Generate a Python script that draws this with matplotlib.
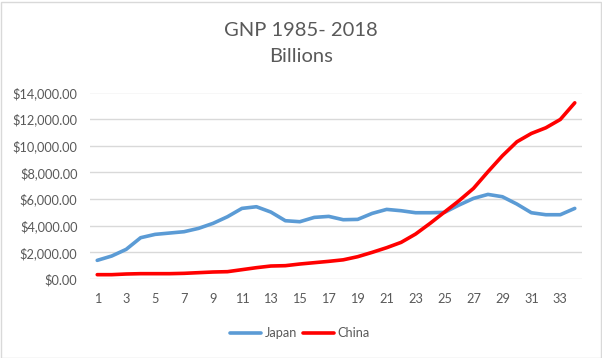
import matplotlib
matplotlib.use("Agg")
import matplotlib.pyplot as plt
from matplotlib.patches import Rectangle

categories = list(range(1, 35))
japan = [1400, 1725, 2225, 3100, 3350, 3450, 3550, 3800, 4175, 4675,
         5300, 5425, 5025, 4375, 4300, 4625, 4700, 4450, 4475, 4925,
         5225, 5125, 4975, 4975, 5000, 5550, 6050, 6350, 6175, 5625,
         4975, 4825, 4825, 5300]
china = [325, 325, 375, 400, 400, 400, 425, 475, 525, 550,
         700, 850, 975, 1000, 1125, 1225, 1325, 1440, 1675, 2000,
         2350, 2750, 3375, 4175, 5025, 5875, 6800, 8050, 9250, 10300,
         10925, 11350, 11975, 13225]
yticks = [0, 2000, 4000, 6000, 8000, 10000, 12000, 14000]
xtick_labels = [str(c) for c in categories[::2]]

plt.rcParams['font.family'] = ['Lato', 'DejaVu Sans']
txt = '#595959'

W, H = 602, 358
fig = plt.figure(figsize=(W / 100, H / 100), dpi=100)
ax = fig.add_axes([90 / W, 1 - 279 / H, (582 - 90) / W, (279 - 92.5) / H])

ax.plot(categories, japan, color='#5B9BD5', lw=2.6, label='Japan',
        solid_capstyle='round', solid_joinstyle='round')
ax.plot(categories, china, color='#FF0000', lw=2.6, label='China',
        solid_capstyle='round', solid_joinstyle='round')

ax.set_xlim(0.5, 34.5)
ax.set_ylim(0, 14000)
ax.set_yticks(yticks)
ax.set_yticklabels([f"${v:,.2f}" for v in yticks])
ax.set_xticks(categories[::2])
ax.set_xticklabels(xtick_labels)
ax.grid(axis='y', color='#D9D9D9', lw=1)
ax.set_axisbelow(True)
for s in ax.spines.values():
    s.set_visible(False)
ax.tick_params(axis='both', length=0, labelsize=9.2, labelcolor=txt)
ax.tick_params(axis='y', pad=9)
ax.tick_params(axis='x', pad=10)

fig.text(0.5, 1 - 30 / H, 'GNP 1985- 2018', ha='center', va='center',
         fontsize=14.5, color=txt)
fig.text(0.5, 1 - 56 / H, 'Billions', ha='center', va='center',
         fontsize=14.5, color=txt)

leg = fig.legend(loc='center', bbox_to_anchor=(300 / W, 1 - 333 / H), ncol=2,
                 frameon=False, fontsize=9.2, handlelength=2.4,
                 columnspacing=0.5, handletextpad=0.3, labelcolor=txt)

fig.patches.append(Rectangle((0.5 / W, 0.5 / H), 1 - 2 / W, 1 - 2 / H,
                             transform=fig.transFigure, fill=False,
                             edgecolor='#D9D9D9', lw=1))

fig.savefig('out.png', dpi=100, facecolor='white')
